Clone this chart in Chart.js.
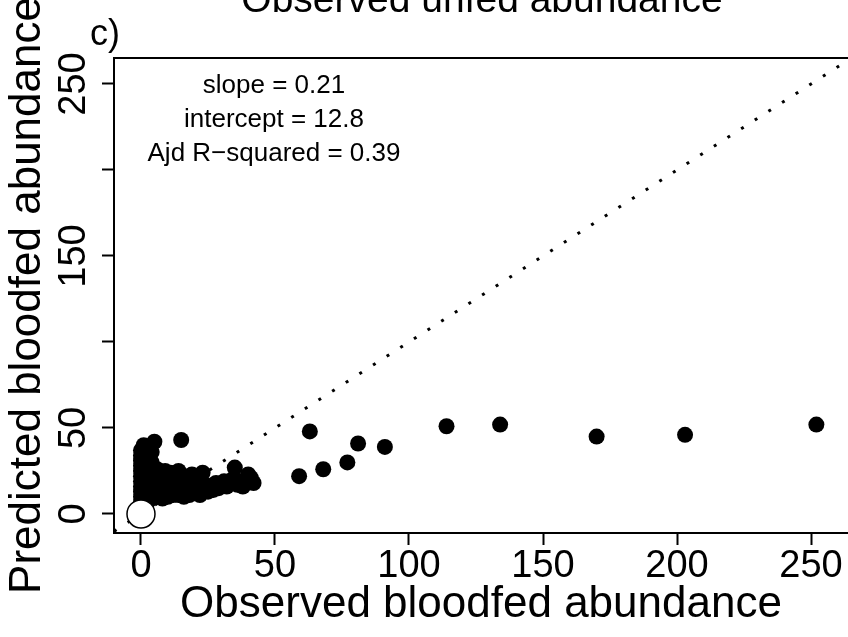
<!DOCTYPE html>
<html lang="en">
<head>
  <meta charset="UTF-8">
  <title>Observed unfed abundance</title>
  <script src="https://cdn.jsdelivr.net/npm/chart.js"></script>
  <style>
    html, body { margin: 0; padding: 0; background: #fff; }
    #chart { display: block; }
  </style>
</head>
<body>
  <canvas id="chart" width="848" height="637"></canvas>
  <script>
    const FONT = '"Liberation Sans", Arial, sans-serif';

    // observed vs predicted bloodfed abundance
    const observed = [
      0, 0, 0, 0, 0, 0, 0, 0, 0, 0, 0, 0,
      1, 1, 1, 1, 1, 1, 1, 1, 1, 1, 1,
      2, 2, 2, 2, 2, 2, 2, 2, 2,
      3, 3, 3, 3, 3, 3, 3,
      4, 4, 4, 4, 4, 4,
      5, 15,
      5, 5, 5, 6, 6, 6, 6, 7, 7, 7,
      8, 8, 8, 9, 9, 9, 10, 10, 10,
      11, 11, 12, 12, 12, 13, 13, 14, 14,
      15, 15, 16, 16, 16, 17, 17, 18, 18,
      19, 19, 20, 20, 21, 22, 22, 23, 23,
      24, 25, 26, 27, 28, 29, 30, 31, 32,
      33, 34, 35, 36, 37, 38, 39, 40, 41, 42,
      59, 63, 68, 77, 81, 91, 114, 134, 170, 203, 252
    ];
    const predicted = [
      4, 7, 10, 13, 16, 19, 22, 25, 28, 31, 34, 37,
      5, 9, 12, 15, 18, 21, 24, 27, 30, 33, 40,
      6, 11, 14, 17, 20, 23, 26, 29, 35,
      8, 12, 16, 22, 28, 32, 38,
      10, 15, 20, 26, 30, 36,
      42, 43,
      12, 17, 23, 10, 15, 20, 26, 13, 19, 24,
      9, 16, 22, 12, 19, 25, 10, 15, 21,
      13, 24, 11, 17, 22, 14, 20, 11, 25,
      13, 18, 10, 16, 22, 13, 20, 11, 17,
      14, 23, 12, 18, 15, 11, 20, 14, 24,
      17, 13, 16, 14, 18, 15, 17, 19, 16,
      18, 20, 27, 17, 19, 16, 18, 23, 21, 18,
      22, 48, 26, 30, 41, 39, 51, 52, 45, 46, 52
    ];
    // the single open circle at the origin
    const zeroObserved = [0];
    const zeroPredicted = [0];

    const xTicks = [0, 50, 100, 150, 200, 250];
    const yTicks = [0, 50, 100, 150, 200, 250];
    const yTickLabels = ['0', '50', '', '150', '', '250'];
    const statLines = ['slope = 0.21', 'intercept = 12.8', 'Ajd R\u2212squared = 0.39'];

    const X_MIN = -10.07, X_MAX = 263.8;
    const Y_MIN = -11.05, Y_MAX = 265.1;

    const points = observed.map((x, i) => ({ x: x, y: predicted[i] }));
    const zeroPoint = zeroObserved.map((x, i) => ({ x: x, y: zeroPredicted[i] }));
    const oneToOne = [{ x: X_MIN, y: X_MIN }, { x: X_MAX, y: X_MAX }];

    const extras = {
      id: 'extras',
      afterDraw(chart) {
        const ctx = chart.ctx;
        const area = chart.chartArea;
        ctx.save();
        // top edge of the box
        ctx.strokeStyle = '#000';
        ctx.lineWidth = 2;
        ctx.beginPath();
        ctx.moveTo(area.left - 1, area.top);
        ctx.lineTo(area.right, area.top);
        ctx.stroke();

        ctx.fillStyle = '#000';
        ctx.textAlign = 'center';
        ctx.textBaseline = 'alphabetic';
        ctx.font = '39px ' + FONT;
        ctx.fillText('Observed unfed abundance', 482, 12);

        ctx.textAlign = 'left';
        ctx.font = '36px ' + FONT;
        ctx.fillText('c)', 90, 45);

        ctx.textAlign = 'center';
        ctx.font = '26px ' + FONT;
        const baselines = [93, 127, 161];
        statLines.forEach((t, i) => ctx.fillText(t, 274, baselines[i]));
        ctx.restore();
      }
    };

    new Chart(document.getElementById('chart'), {
      type: 'scatter',
      data: {
        datasets: [
          {
            data: zeroPoint,
            pointRadius: 14,
            pointBackgroundColor: '#fff',
            pointBorderColor: '#000',
            pointBorderWidth: 1.5,
            order: 1
          },
          {
            data: points,
            pointRadius: 8,
            pointBackgroundColor: '#000',
            pointBorderWidth: 0,
            order: 2
          },
          {
            type: 'line',
            data: oneToOne,
            borderColor: '#000',
            borderWidth: 3,
            borderDash: [3, 13.2],
            pointRadius: 0,
            fill: false,
            order: 3
          }
        ]
      },
      options: {
        responsive: false,
        animation: false,
        layout: { autoPadding: false, padding: { top: 58, right: 0, left: 0, bottom: 0 } },
        plugins: { legend: { display: false }, tooltip: { enabled: false } },
        scales: {
          x: {
            type: 'linear',
            min: X_MIN,
            max: X_MAX,
            afterBuildTicks: s => { s.ticks = xTicks.map(v => ({ value: v })); },
            afterFit: s => { s.height = 104; s.paddingLeft = 0; s.paddingRight = 0; },
            grid: { drawOnChartArea: false, drawTicks: true, tickLength: 12, tickWidth: 2, tickColor: '#000' },
            border: { display: true, color: '#000', width: 2 },
            ticks: {
              autoSkip: false, maxRotation: 0, color: '#000', padding: 3,
              font: { family: FONT, size: 38, lineHeight: 1 }
            },
            title: {
              display: true, text: 'Observed bloodfed abundance', color: '#000',
              font: { family: FONT, size: 44, lineHeight: 1 }, padding: { top: 0, bottom: 10 }
            }
          },
          y: {
            type: 'linear',
            min: Y_MIN,
            max: Y_MAX,
            afterBuildTicks: s => { s.ticks = yTicks.map(v => ({ value: v })); },
            afterFit: s => { s.width = 114; s.paddingTop = 0; s.paddingBottom = 0; },
            grid: { drawOnChartArea: false, drawTicks: true, tickLength: 12, tickWidth: 2, tickColor: '#000' },
            border: { display: true, color: '#000', width: 2 },
            ticks: {
              autoSkip: false, minRotation: 90, maxRotation: 90, crossAlign: 'center',
              color: '#000', padding: -4,
              font: { family: FONT, size: 38, lineHeight: 1 },
              callback: v => yTickLabels[yTicks.indexOf(v)]
            },
            title: {
              display: true, text: 'Predicted bloodfed abundance', color: '#000',
              font: { family: FONT, size: 44, lineHeight: 1 }, padding: { top: 6, bottom: 0 }
            }
          }
        }
      },
      plugins: [extras]
    });
  </script>
</body>
</html>
